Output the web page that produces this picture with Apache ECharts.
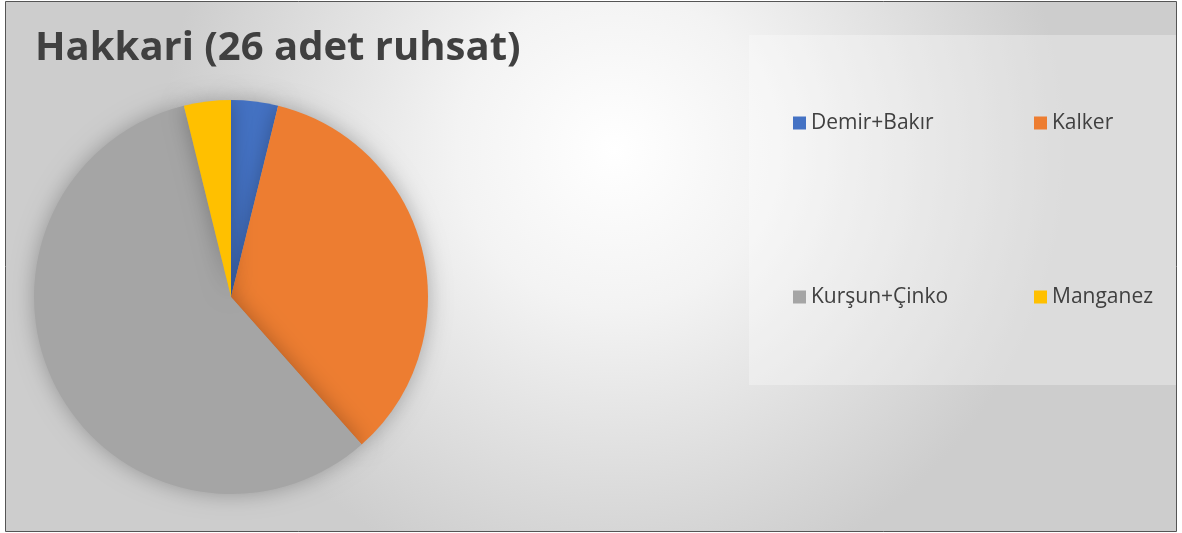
<!DOCTYPE html>
<html lang="tr">
<head>
    <meta charset="utf-8" />
    <script src="https://cdn.jsdelivr.net/npm/echarts@6/dist/echarts.min.js"></script>
</head>
<body style="margin: 0; background: #fff">
    <div id="container" style="width: 1182px; height: 533px;"></div>
    <script type="text/javascript">
        var dom = document.getElementById('container');
        var myChart = echarts.init(dom, null, { renderer: 'canvas' });

        // veriler
        const titleText = 'Hakkari (26 adet ruhsat)';
        const categories = ['Demir+Bakır', 'Kalker', 'Kurşun+Çinko', 'Manganez'];
        const values = [1, 9, 15, 1];
        const colors = ['#4472c4', '#ed7d31', '#a5a5a5', '#ffc000'];

        const pieData = categories.map(function (name, i) {
            return { name: name, value: values[i] };
        });

        const legendText = {
            fontFamily: 'Open Sans',
            fontSize: 21,
            lineHeight: 22,
            color: '#404040'
        };

        var option = {
            backgroundColor: '#ffffff',
            color: colors,
            graphic: [
                {
                    type: 'rect',
                    z: -10,
                    shape: { x: 5.5, y: 1.5, width: 1171, height: 530 },
                    style: {
                        fill: new echarts.graphic.RadialGradient(0.52, 0.28, 0.85, [
                            { offset: 0, color: '#ffffff' },
                            { offset: 0.35, color: '#f3f3f3' },
                            { offset: 1, color: '#cdcdcd' }
                        ]),
                        stroke: '#555555',
                        lineWidth: 1
                    }
                },
                {
                    type: 'rect',
                    z: -9,
                    shape: { x: 749, y: 35, width: 427, height: 350 },
                    style: { fill: 'rgba(255,255,255,0.3)' }
                }
            ],
            title: {
                text: titleText,
                left: 30,
                top: 24,
                textStyle: {
                    fontFamily: 'Open Sans',
                    fontWeight: 'bold',
                    fontSize: 40,
                    color: '#404040'
                }
            },
            legend: [
                {
                    data: [categories[0], categories[2]],
                    orient: 'vertical',
                    left: 793,
                    top: 112,
                    padding: 0,
                    itemWidth: 13,
                    itemHeight: 13,
                    itemGap: 152,
                    icon: 'rect',
                    textStyle: legendText
                },
                {
                    data: [categories[1], categories[3]],
                    orient: 'vertical',
                    left: 1034,
                    top: 112,
                    padding: 0,
                    itemWidth: 13,
                    itemHeight: 13,
                    itemGap: 152,
                    icon: 'rect',
                    textStyle: legendText
                }
            ],
            series: [
                {
                    type: 'pie',
                    center: [231, 297],
                    radius: 197,
                    startAngle: 90,
                    clockwise: true,
                    label: { show: false },
                    labelLine: { show: false },
                    emphasis: { disabled: true },
                    itemStyle: {
                        borderWidth: 0,
                        shadowBlur: 22,
                        shadowColor: 'rgba(0,0,0,0.28)'
                    },
                    data: pieData
                }
            ]
        };

        myChart.setOption(option);
        window.addEventListener('resize', myChart.resize);
    </script>
</body>
</html>
